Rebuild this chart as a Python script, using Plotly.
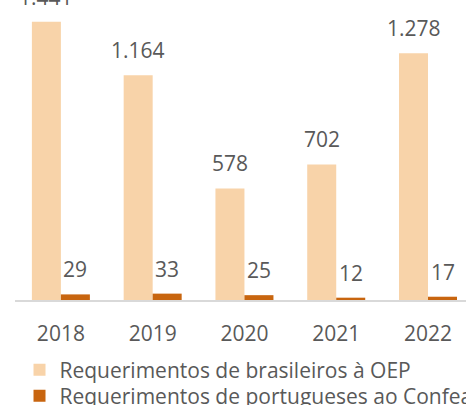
import plotly.graph_objects as go

# Requerimentos por ano
anos = ["2018", "2019", "2020", "2021", "2022"]
brasileiros_oep = [1441, 1164, 578, 702, 1278]
portugueses_confea = [29, 33, 25, 12, 17]

nome_oep = "Requerimentos de brasileiros à OEP"
nome_confea = "Requerimentos de portugueses ao Confea"

cor_oep = "#F8D3A9"
cor_confea = "#C8650F"
cor_texto = "#595959"
fonte = "Open Sans"
tamanho = 21


def fmt(v):
    return f"{v:,}".replace(",", ".")


fig = go.Figure()
fig.add_trace(go.Bar(x=anos, y=brasileiros_oep, name=nome_oep, legend="legend",
                     marker=dict(color=cor_oep, line=dict(width=0))))
fig.add_trace(go.Bar(x=anos, y=portugueses_confea, name=nome_confea, legend="legend2",
                     marker=dict(color=cor_confea, line=dict(width=0))))

# value labels above each bar (x given as category index)
anotacoes = []
for serie, desloc in ((brasileiros_oep, -14.5), (portugueses_confea, 14.5)):
    for i, v in enumerate(serie):
        anotacoes.append(dict(
            x=i, y=v, xref="x", yref="y", text=fmt(v), showarrow=False,
            xanchor="center", yanchor="bottom", xshift=desloc, yshift=9,
            font=dict(family=fonte, size=tamanho, color=cor_texto),
        ))

estilo_legenda = dict(
    orientation="v", x=0.01, xanchor="left", yanchor="top",
    font=dict(family=fonte, size=tamanho, color=cor_texto),
    bgcolor="rgba(0,0,0,0)", itemsizing="constant",
)

fig.update_layout(
    width=466, height=405,
    margin=dict(l=15, r=0, t=0, b=105, autoexpand=False),
    paper_bgcolor="white", plot_bgcolor="white",
    barmode="group", bargap=0.368, bargroupgap=0,
    font=dict(family=fonte, size=tamanho, color=cor_texto),
    annotations=anotacoes,
    showlegend=True,
    legend=dict(estilo_legenda, y=-0.165),
    legend2=dict(estilo_legenda, y=-0.252),
)
fig.update_xaxes(
    type="category", range=[-0.5, 4.414],
    showline=True, linecolor="#D9D9D9", linewidth=2,
    showgrid=False, ticks="", ticklabelstandoff=14,
    tickfont=dict(family=fonte, size=tamanho, color=cor_texto),
)
fig.update_yaxes(range=[0, 1554], visible=False, showgrid=False, zeroline=False)

fig.write_html("out.html")
